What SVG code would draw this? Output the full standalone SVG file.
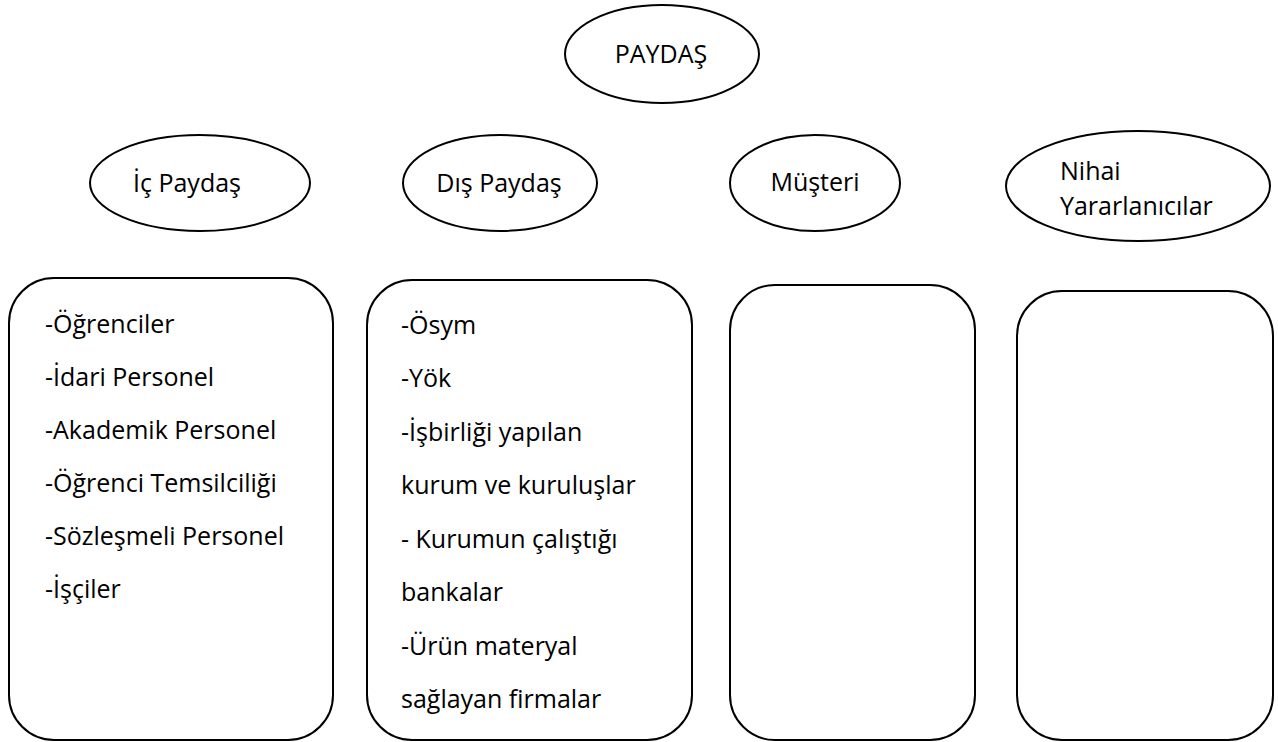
<svg xmlns="http://www.w3.org/2000/svg" width="1278" height="742" viewBox="0 0 1278 742">
<style>
.shape{fill:#fff;stroke:#000;stroke-width:2}
text{font-family:"Open Sans","Liberation Sans",sans-serif;font-size:25px;fill:#000}
.c{text-anchor:middle}
</style>
<rect width="1278" height="742" fill="#fff"/>
<g id="connectors"></g>
<g id="paydas">
<ellipse class="shape" cx="662" cy="54" rx="97" ry="49"/>
<text class="c" x="661" y="63">PAYDAŞ</text>
</g>
<g id="ic-paydas">
<ellipse class="shape" cx="200" cy="183" rx="110" ry="48"/>
<text class="c" x="187" y="192">İç Paydaş</text>
</g>
<g id="dis-paydas">
<ellipse class="shape" cx="500" cy="183" rx="97" ry="48"/>
<text class="c" x="499" y="192">Dış Paydaş</text>
</g>
<g id="musteri">
<ellipse class="shape" cx="815" cy="183" rx="85" ry="48"/>
<text class="c" x="815" y="191">Müşteri</text>
</g>
<g id="nihai">
<ellipse class="shape" cx="1138" cy="186" rx="132" ry="55"/>
<text x="1060" y="180">Nihai</text>
<text x="1060" y="215">Yararlanıcılar</text>
</g>
<g id="ic-list">
<rect class="shape" x="9" y="278" width="324" height="462" rx="45"/>
<text x="45" y="333">-Öğrenciler</text>
<text x="45" y="386">-İdari Personel</text>
<text x="45" y="439">-Akademik Personel</text>
<text x="45" y="492">-Öğrenci Temsilciliği</text>
<text x="45" y="545">-Sözleşmeli Personel</text>
<text x="45" y="598">-İşçiler</text>
</g>
<g id="dis-list">
<rect class="shape" x="367" y="280" width="325" height="460" rx="45"/>
<text x="401" y="334">-Ösym</text>
<text x="401" y="387">-Yök</text>
<text x="401" y="441">-İşbirliği yapılan</text>
<text x="401" y="494">kurum ve kuruluşlar</text>
<text x="401" y="548">- Kurumun çalıştığı</text>
<text x="401" y="601">bankalar</text>
<text x="401" y="655">-Ürün materyal</text>
<text x="401" y="708">sağlayan firmalar</text>
</g>
<g id="musteri-list">
<rect class="shape" x="730" y="285" width="245" height="455" rx="45"/>
</g>
<g id="nihai-list">
<rect class="shape" x="1017" y="291" width="256" height="449" rx="45"/>
</g>
</svg>
